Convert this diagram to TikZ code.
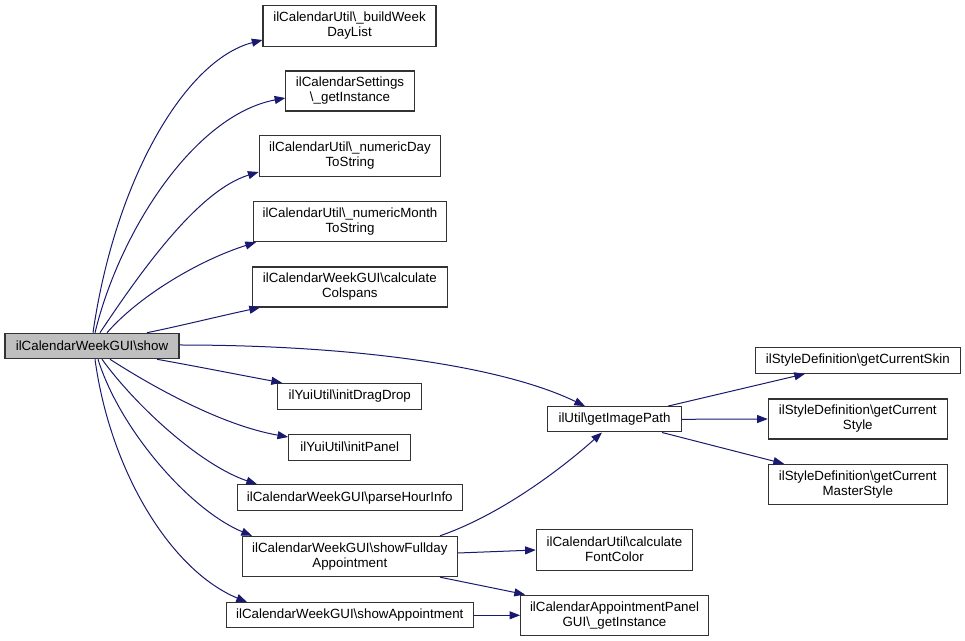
\documentclass[tikz,border=0pt]{standalone}
\usepackage{fontspec}
\setmainfont{Liberation Sans}
\usetikzlibrary{arrows.meta}
\definecolor{edgec}{HTML}{191970}
\definecolor{boxgray}{HTML}{BFBFBF}
\begin{document}
\begin{tikzpicture}[x=0.75pt,y=-0.75pt,
  box/.style={draw=black!80, line width=0.8pt, inner sep=0pt, align=center,
              font=\fontsize{10pt}{11.25pt}\selectfont},
  sz/.style 2 args={minimum width=#1*0.75pt, minimum height=#2*0.75pt},
  callarrow/.style={draw=edgec, line width=0.75pt, -{Triangle[length=8pt,width=6pt]}}]
\useasboundingbox[fill=white] (0,0) rectangle (965,641);

% nodes
\node[box, sz={174}{25.5}, fill=boxgray] (show) at (92,346) {ilCalendarWeekGUI\textbackslash show};
\node[box, sz={173}{40.5}] (build) at (349.5,26) {ilCalendarUtil\textbackslash\_buildWeek\\DayList};
\node[box, sz={128.3}{40}] (settings) at (350,91) {ilCalendarSettings\\\textbackslash\_getInstance};
\node[box, sz={181.7}{40.3}] (numday) at (350,156) {ilCalendarUtil\textbackslash\_numericDay\\ToString};
\node[box, sz={193.7}{40}] (nummonth) at (350,221.7) {ilCalendarUtil\textbackslash\_numericMonth\\ToString};
\node[box, sz={195}{40}] (colspans) at (349.8,287) {ilCalendarWeekGUI\textbackslash calculate\\Colspans};
\node[box, sz={144.3}{26}] (dragdrop) at (349.8,396.3) {ilYuiUtil\textbackslash initDragDrop};
\node[box, sz={122}{25.7}] (panel) at (349.7,447.2) {ilYuiUtil\textbackslash initPanel};
\node[box, sz={225}{26}] (parse) at (349.8,497.7) {ilCalendarWeekGUI\textbackslash parseHourInfo};
\node[box, sz={215}{40.3}] (fullday) at (349.8,556.5) {ilCalendarWeekGUI\textbackslash showFullday\\Appointment};
\node[box, sz={247}{25.3}] (showapp) at (349.8,615.3) {ilCalendarWeekGUI\textbackslash showAppointment};
\node[box, sz={133.6}{25.3}] (imgpath) at (614.5,419.3) {ilUtil\textbackslash getImagePath};
\node[box, sz={205}{25.6}] (skin) at (857.8,360.5) {ilStyleDefinition\textbackslash getCurrentSkin};
\node[box, sz={179}{40}] (style) at (857.8,419) {ilStyleDefinition\textbackslash getCurrent\\Style};
\node[box, sz={179}{40}] (master) at (857.8,484.3) {ilStyleDefinition\textbackslash getCurrent\\MasterStyle};
\node[box, sz={156.4}{40.7}] (fontcolor) at (614.5,549.7) {ilCalendarUtil\textbackslash calculate\\FontColor};
\node[box, sz={187.6}{40.3}] (apppanel) at (614.5,615.2) {ilCalendarAppointmentPanel\\GUI\textbackslash\_getInstance};

% edges from show
\draw[callarrow] (show.north -| 93,0) .. controls (115,180) and (185,60) .. (build.west |- 0,40);
\draw[callarrow] (show.north -| 95,0) .. controls (120,230) and (195,115) .. (settings.west |- 0,98);
\draw[callarrow] (show.north -| 100,0) .. controls (145,265) and (200,190) .. (numday.west |- 0,172);
\draw[callarrow] (show.north -| 107,0) .. controls (140,295) and (200,260) .. (nummonth.south west -| 256,0);
\draw[callarrow] (show.north -| 147,0) .. controls (180,326) and (220,316) .. (colspans.south west -| 260,0);
\draw[callarrow] (show.east |- 0,345) .. controls (350,345) and (500,365) .. (imgpath.north -| 585,0);
\draw[callarrow] (show.south -| 157,0) .. controls (200,367) and (240,375) .. (dragdrop.north -| 282,0);
\draw[callarrow] (show.south -| 110,0) .. controls (150,385) and (220,425) .. (panel.west |- 0,437);
\draw[callarrow] (show.south -| 102,0) .. controls (135,405) and (200,465) .. (parse.north -| 257,0);
\draw[callarrow] (show.south -| 98,0) .. controls (120,430) and (190,510) .. (fullday.north -| 252,0);
\draw[callarrow] (show.south -| 95,0) .. controls (110,470) and (170,570) .. (showapp.north -| 247,0);

% edges from getImagePath
\draw[callarrow] (imgpath.north -| 668,0) -- (skin.south -| 805,0);
\draw[callarrow] (imgpath.east) -- (style.west);
\draw[callarrow] (imgpath.south -| 662,0) -- (master.north -| 784,0);

% edges from showFullday
\draw[callarrow] (fullday.north -| 440,0) .. controls (500,515) and (560,470) .. (imgpath.south -| 602,0);
\draw[callarrow] (fullday.east |- 0,553) -- (fontcolor.west |- 0,550);
\draw[callarrow] (fullday.south -| 440,0) -- (apppanel.north -| 525,0);

% edge from showAppointment
\draw[callarrow] (showapp.east) -- (apppanel.west |- 0,615.3);
\end{tikzpicture}
\end{document}
